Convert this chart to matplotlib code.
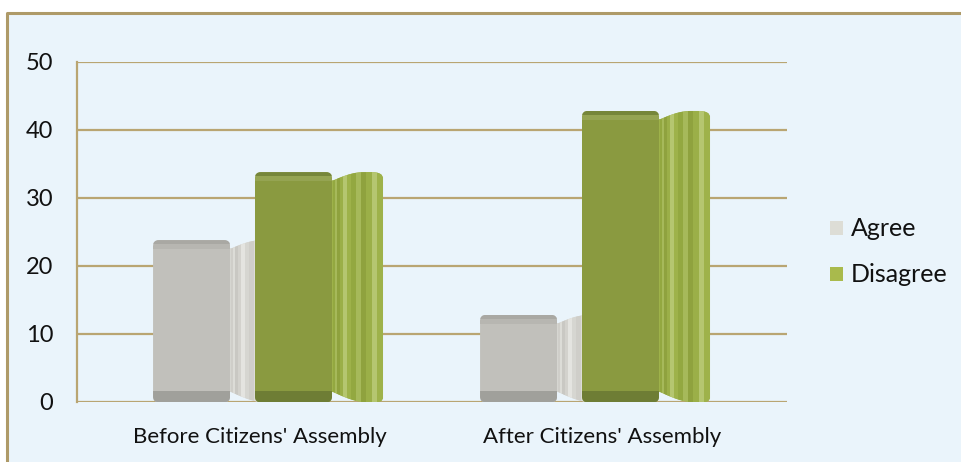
import numpy as np
import matplotlib
matplotlib.use("Agg")
import matplotlib.pyplot as plt
from matplotlib.patches import Polygon, Rectangle, FancyBboxPatch

categories = ["Before Citizens' Assembly", "After Citizens' Assembly"]
series_names = ["Agree", "Disagree"]
agree = [23, 12]
disagree = [33, 42]
y_ticks = [0, 10, 20, 30, 40, 50]

BG = "#EAF4FB"
FRAME = "#AE9A68"
GRID = "#B9A572"

styles = {
    "Agree": dict(front="#C1C0BB", band="#A9A8A3", band_light="#B7B6B1", band_bottom="#A0A09B",
                  stripes=["#E4E4E0", "#D6D6D1", "#CFCEC9", "#DCDCD7", "#C9C8C3", "#D3D2CD"],
                  legend="#DDDDD6"),
    "Disagree": dict(front="#8A9A40", band="#76863A", band_light="#95A452", band_bottom="#6E7D35",
                     stripes=["#B5C670", "#9EB24A", "#93A840", "#A6B95A", "#8FA23E", "#9BAF48"],
                     legend="#A9BA4C"),
}

plt.rcParams["font.family"] = ["Lato", "DejaVu Sans"]

W, H = 961, 462
fig = plt.figure(figsize=(W / 100, H / 100), dpi=100)
fig.patch.set_facecolor("white")

# outer panel with a tan frame on its top and left edges
fig.patches.append(Rectangle((7 / W, 0), 1.0, (H - 13) / H, transform=fig.transFigure,
                             facecolor=BG, edgecolor="none", zorder=-2))
fig.lines.append(plt.Line2D([7 / W, 7 / W, 1.0], [0, (H - 13) / H, (H - 13) / H],
                            transform=fig.transFigure, color=FRAME, lw=2.2, zorder=-1))

ax = fig.add_axes([77 / W, (H - 402) / H, (787 - 77) / W, (402 - 62) / H])
ax.set_zorder(2)
ax.patch.set_visible(False)

ax.set_ylim(0, 50)
ax.set_xlim(-0.5596, 1.6116)
ax.set_yticks(y_ticks)
ax.set_yticklabels([str(t) for t in y_ticks], fontsize=17)
ax.set_xticks([0, 1.046])
ax.set_xticklabels(categories, fontsize=16)
ax.tick_params(axis="both", length=0, colors="#111111")
ax.tick_params(axis="y", pad=17)
ax.tick_params(axis="x", pad=18)
for t in y_ticks:
    ax.axhline(t, color=GRID, lw=1.6, zorder=1)
for side in ["top", "right", "bottom"]:
    ax.spines[side].set_visible(False)
ax.spines["left"].set_color(GRID)
ax.spines["left"].set_linewidth(1.6)

x = np.arange(len(categories))
front_w = 0.2355
depth = 0.156
offsets = {"Agree": -0.327, "Disagree": -0.0153}
values = {"Agree": agree, "Disagree": disagree}
bevel_up = 0.8      # bevel rising above the value
bevel_down = 0.5    # bevel dropping below the value
bottom_cap = 1.6

# ratio of y data units to x data units per pixel, for round corners
aspect = (50 / 340) / ((1.6116 + 0.5596) / 710)


def draw_bar(xl, v, st, z):
    xr = xl + front_w
    vt = v + bevel_up
    cap = bevel_up + bevel_down
    # rounded side of the column, striped
    t = np.linspace(0, 1, 40)
    top = vt - cap * (1 - np.sin(np.pi / 2 * np.clip(t * 1.6, 0, 1)))
    corner = np.clip((t - 0.8) / 0.2, 0, 1)
    top = top - 0.8 * (1 - np.sqrt(1 - corner ** 2))
    bot = bottom_cap * (1 - np.sin(np.pi / 2 * np.clip(t * 1.4, 0, 1))) - 0.05
    corner_b = np.clip((t - 0.85) / 0.15, 0, 1)
    bot = bot + 0.6 * (1 - np.sqrt(1 - corner_b ** 2))
    xs = xr + depth * t
    xs[0] = xr - 0.02
    poly = np.vstack([np.column_stack([xs, top]), np.column_stack([xs[::-1], bot[::-1]])])
    side = Polygon(poly, closed=True, facecolor=st["stripes"][1], edgecolor="none", zorder=z)
    ax.add_patch(side)
    n = 14
    edges = xr + depth * (1 - np.cos(np.linspace(0, np.pi / 2, n + 1)))
    edges[0] = xr - 0.02
    for i in range(n):
        b = ax.bar(edges[i], vt + 0.2, width=edges[i + 1] - edges[i], bottom=-0.2, align="edge",
                   color=st["stripes"][i % len(st["stripes"])], edgecolor="none", zorder=z + 0.1)
        b.patches[0].set_clip_path(side)
    # front face with softly rounded corners and a bevelled top
    clip = FancyBboxPatch((xl, -0.05), front_w, vt + 0.05,
                          boxstyle="round,pad=0,rounding_size=0.018",
                          mutation_aspect=aspect, transform=ax.transData)
    bars = [ax.bar(xl, v + 0.05, width=front_w, bottom=-0.05, align="edge",
                   color=st["front"], edgecolor="none", zorder=z + 0.2),
            ax.bar(xl, cap, width=front_w, bottom=v - bevel_down, align="edge",
                   color=st["band_light"], edgecolor="none", zorder=z + 0.3),
            ax.bar(xl, cap * 0.45, width=front_w, bottom=vt - cap * 0.45, align="edge",
                   color=st["band"], edgecolor="none", zorder=z + 0.35),
            ax.bar(xl, bottom_cap, width=front_w, bottom=-0.05, align="edge",
                   color=st["band_bottom"], edgecolor="none", zorder=z + 0.3)]
    for bc in bars:
        bc.patches[0].set_clip_path(clip)


for name in series_names:
    for i, v in enumerate(values[name]):
        draw_bar(x[i] + offsets[name], v, styles[name], 3 + i * 2 + (0 if name == "Agree" else 0.5))

# legend
for k, name in enumerate(series_names):
    yc = (H - 228 - k * 46) / H
    fig.patches.append(Rectangle((830 / W, yc - 7 / H), 13 / W, 14 / H, transform=fig.transFigure,
                                 facecolor=styles[name]["legend"], edgecolor="none", zorder=5))
    fig.text(851 / W, yc, name, fontsize=18, va="center", ha="left", color="#111111")

fig.savefig("out.png", dpi=100, facecolor=fig.get_facecolor())
